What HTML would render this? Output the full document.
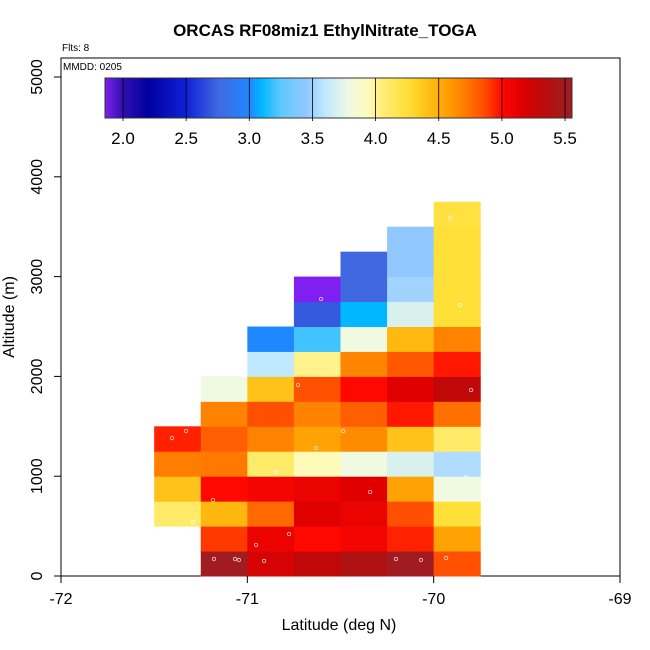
<!DOCTYPE html>
<html><head><meta charset="utf-8"><style>
html,body{margin:0;padding:0;background:#fff;}
svg{display:block;font-family:"Liberation Sans",Arial,sans-serif;}
</style></head><body>
<svg id="chart" width="650" height="650" viewBox="0 0 650 650">
<text x="325" y="36" text-anchor="middle" font-size="17" font-weight="bold">ORCAS RF08miz1 EthylNitrate_TOGA</text>
<text x="62" y="51" font-size="10">Flts: 8</text>
<rect x="61" y="58" width="559" height="518" fill="none" stroke="#000"/>
<text x="63" y="70" font-size="10">MMDD: 0205</text>
<g id="cells"></g>
<g id="pts"></g>
<g id="cbar"></g>
<g id="axes"></g>
<text x="339" y="630" text-anchor="middle" font-size="16">Latitude (deg N)</text>
<text transform="translate(14,317) rotate(-90)" text-anchor="middle" font-size="16">Altitude (m)</text>
</svg>
<script>
const colLats=[-71.5,-71.25,-71,-70.75,-70.5,-70.25,-70];
const colStartRow=[2,0,0,0,0,0,0];
const colValues=[
[4.1,4.4,4.7,4.95],
[5.5,4.9,4.45,5.0,4.72,4.8,4.68,3.8],
[5.2,5.1,4.77,5.05,4.1,4.68,4.85,4.4,3.6,3.0],
[5.3,5.0,5.15,5.1,3.95,4.55,4.68,4.85,4.02,3.2,2.7,1.85],
[5.4,5.05,5.1,5.15,3.8,4.65,4.8,5.0,4.67,3.8,3.1,2.75,2.75],
[5.5,4.95,4.85,4.55,3.7,4.4,4.97,5.15,4.82,4.45,3.7,3.5,3.45,3.45],
[4.85,4.55,4.25,3.8,3.55,4.1,4.75,5.3,4.97,4.68,4.25,4.25,4.25,4.25,4.22]
];
const pointLats=[-71.329,-71.404,-71.291,-71.184,-70.846,-70.631,-70.486,-70.728,-70.341,-69.799,-69.826,-71.179,-71.066,-71.045,-70.953,-70.910,-70.776,-70.202,-70.068,-69.933,-69.912,-70.604,-69.858];
const pointAlts=[1453,1383,541,762,1042,1283,1453,1914,842,1864,992,170,170,160,311,150,421,170,160,180,3587,2776,2715];
const xTicks=[-72,-71,-70,-69];
const yTicks=[0,1000,2000,3000,4000,5000];
const cbTicks=[2.0,2.5,3.0,3.5,4.0,4.5,5.0,5.5];
const cellW=0.25, cellH=250;

const NS="http://www.w3.org/2000/svg";
const X=v=>61+(v+72)*186.33;
const Y=v=>576-v*0.0998;
const CB=v=>123+(v-2)*126.3;
const stops=[[1.85,[128,32,240]],[2.0,[48,16,176]],[2.2,[0,0,160]],[2.5,[16,32,216]],[2.75,[64,104,224]],[3.0,[32,136,255]],[3.1,[0,184,255]],[3.25,[96,200,255]],[3.45,[144,200,255]],[3.6,[192,232,255]],[3.8,[240,250,224]],[3.95,[255,250,184]],[4.05,[255,238,120]],[4.25,[255,224,56]],[4.45,[255,184,16]],[4.6,[255,152,0]],[4.75,[255,112,0]],[4.87,[255,72,0]],[5.0,[255,8,0]],[5.15,[224,0,0]],[5.3,[192,8,8]],[5.5,[160,28,32]]];
function cmap(v){
 if(v<=stops[0][0])return `rgb(${stops[0][1]})`;
 for(let i=1;i<stops.length;i++){if(v<=stops[i][0]){const a=stops[i-1],b=stops[i],t=(v-a[0])/(b[0]-a[0]);return `rgb(${a[1].map((c,k)=>Math.round(c+(b[1][k]-c)*t))})`;}}
 return `rgb(${stops[stops.length-1][1]})`;
}
function mk(tag,attrs,parent){const e=document.createElementNS(NS,tag);for(const k in attrs)e.setAttribute(k,attrs[k]);parent.appendChild(e);return e;}
const cells=document.getElementById('cells');
colValues.forEach((vals,ci)=>{vals.forEach((v,ri)=>{
 const r=colStartRow[ci]+ri, lat=colLats[ci];
 const x0=X(lat),x1=X(lat+cellW),y0=Y((r+1)*cellH),y1=Y(r*cellH);
 const e=mk('rect',{x:x0,y:y0,width:x1-x0+0.5,height:y1-y0+0.5,fill:cmap(v)},cells);
 
 
});});
const pts=document.getElementById('pts');
pointLats.forEach((la,i)=>{
 const e=mk('circle',{cx:X(la),cy:Y(pointAlts[i]),r:1.7,fill:'none',stroke:'#fff','stroke-opacity':0.8,'stroke-width':0.8},pts);
 
 
});
const cb=document.getElementById('cbar');
const cbl=105,cbr=572;
for(let px=cbl;px<cbr;px++){
 const v=2+(px+0.5-123)/126.3;
 mk('rect',{x:px,y:78,width:1.2,height:40,fill:cmap(v)},cb);
}
mk('rect',{x:cbl,y:78,width:cbr-cbl,height:40,fill:'none',stroke:'#333'},cb);
cbTicks.forEach(t=>{
 mk('line',{x1:CB(t),x2:CB(t),y1:78,y2:121,stroke:'#000','stroke-width':0.8},cb);
 const e=mk('text',{x:CB(t),y:144,'text-anchor':'middle','font-size':17},cb);
 e.textContent=t.toFixed(1);
 
 
});
const ax=document.getElementById('axes');
xTicks.forEach(t=>{
 mk('line',{x1:X(t),x2:X(t),y1:576,y2:583,stroke:'#000'},ax);
 const e=mk('text',{x:X(t),y:604,'text-anchor':'middle','font-size':16},ax);
 e.textContent=t;
 
 
});
yTicks.forEach(t=>{
 mk('line',{x1:54,x2:61,y1:Y(t),y2:Y(t),stroke:'#000'},ax);
 const e=mk('text',{transform:`translate(42,${Y(t)}) rotate(-90)`,'text-anchor':'middle','font-size':16},ax);
 e.textContent=t;
 
 
});
</script>
</body></html>
